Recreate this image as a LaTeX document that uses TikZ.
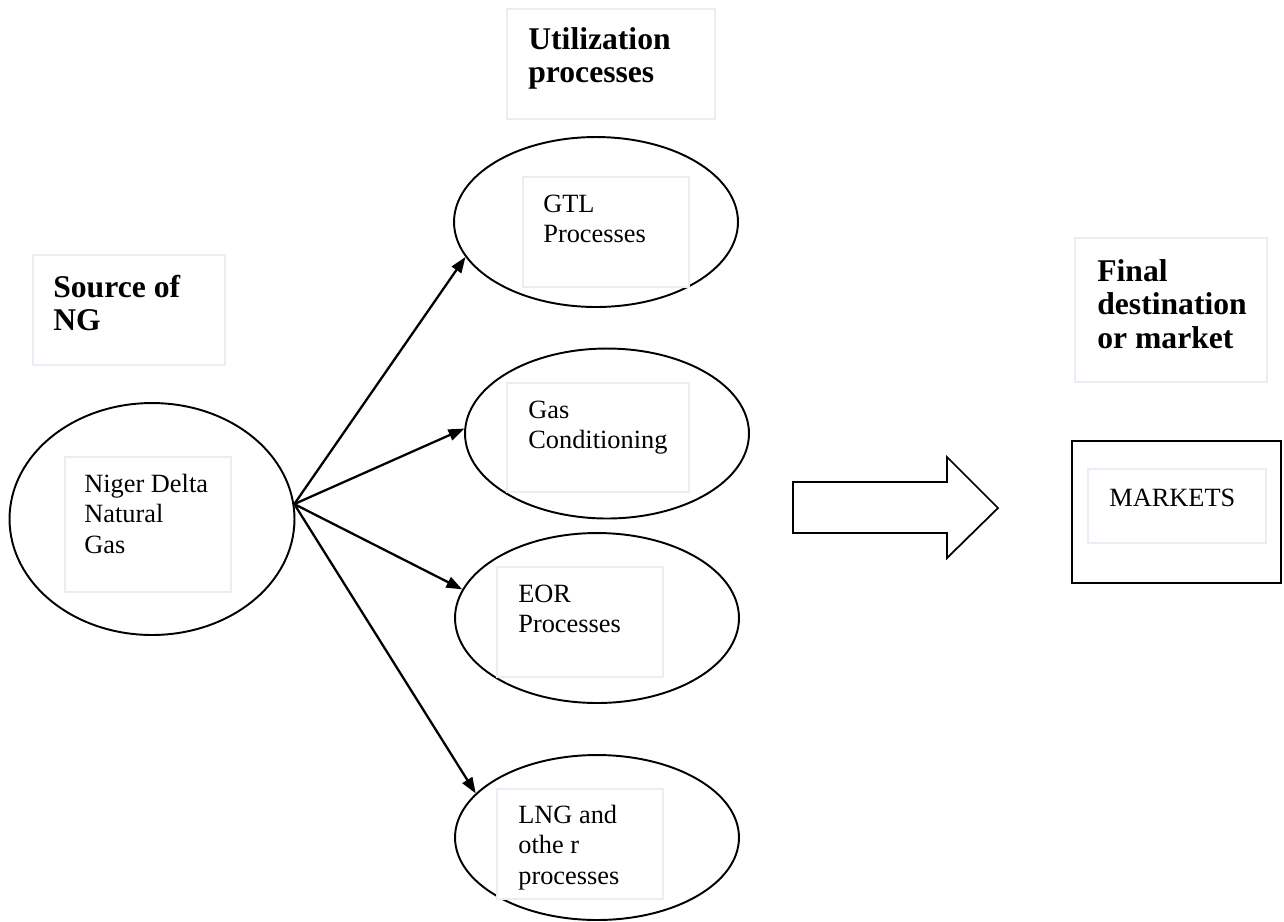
\documentclass[tikz,border=0pt]{standalone}
\usepackage{fontspec}
\setmainfont{Liberation Serif}
\usetikzlibrary{shapes.geometric,arrows.meta}
\definecolor{framegray}{RGB}{236,236,244}
\tikzset{
  oval/.style={ellipse,draw,line width=1.1pt,inner sep=0pt,
               minimum width=5.68cm,minimum height=3.4cm},
  panel/.style={draw=framegray,fill=white,line width=0.85pt},
  headtxt/.style={anchor=base west,inner sep=0pt,
                  font=\bfseries\fontsize{18}{19.3}\selectfont},
  bodytxt/.style={anchor=base west,inner sep=0pt,
                  font=\fontsize{15}{17.6}\selectfont},
  flow/.style={line width=1.3pt,-{Triangle[length=9pt,width=6.5pt]}},
  bigarrow/.style={draw,line width=1pt,line join=miter},
}
% left-aligned block whose baseline is the first line's baseline
\newcommand\txtrows[1]{\begin{tabular}[t]{@{}l@{}}#1\end{tabular}}
\begin{document}
\begin{tikzpicture}[x=0.02cm,y=-0.02cm]
\useasboundingbox (0,0) rectangle (1284,921);

% column headings
\draw[panel] (33,255) rectangle (225,365);
\node[headtxt] (hsrc) at (53,297) {\txtrows{Source of\\NG}};
\draw[panel] (507,9) rectangle (715,119);
\node[headtxt] (hutil) at (528,49) {\txtrows{Utilization\\processes}};
\draw[panel] (1075,238) rectangle (1267,382);
\node[headtxt] (hfinal) at (1097,281) {\txtrows{Final\\destination\\or market}};

% source and utilization ellipses
\node[oval,minimum width=5.70cm,minimum height=4.64cm] (src) at (152,519) {};
\node[oval] (gtl) at (596,222) {};
\node[oval] (gas) at (607,433.5) {};
\node[oval] (eor) at (597,618) {};
\node[oval,minimum height=3.3cm] (lng) at (597,837.5) {};

% text panels inside the ellipses
\draw[panel] (65,457) rectangle (231,592);
\node[bodytxt] (tsrc) at (84,492) {\txtrows{Niger Delta\\Natural\\Gas}};
\draw[panel] (523,177) rectangle (689,287);
\node[bodytxt] (tgtl) at (543,212) {\txtrows{GTL\\Processes}};
\draw[panel] (507,383) rectangle (689,492);
\node[bodytxt] (tgas) at (528,418) {\txtrows{Gas\\Conditioning}};
\draw[panel] (497,567) rectangle (663,677);
\node[bodytxt] (teor) at (518,602) {\txtrows{EOR\\Processes}};
\draw[panel] (497,789) rectangle (663,899);
\node[bodytxt] (tlng) at (518,823) {\txtrows{LNG and\\othe r\\processes}};

% connectors from the source
\coordinate (fork) at (src.6);
\draw[flow] (fork) -- (gtl.195.5);
\draw[flow] (fork) -- (gas.178.6);
\draw[flow] (fork) -- (eor.168.9);
\draw[flow] (fork) -- (lng.160.3);

% block arrow towards the markets
\draw[bigarrow] (793,482) -- (947,482) -- (947,457) -- (998,508)
  -- (947,558) -- (947,533) -- (793,533) -- cycle;

% markets box
\draw[line width=1.2pt] (1072,441) rectangle (1281,583);
\draw[panel] (1088,469) rectangle (1266,543);
\node[bodytxt] (tmkt) at (1109,506) {MARKETS};
\end{tikzpicture}
\end{document}
